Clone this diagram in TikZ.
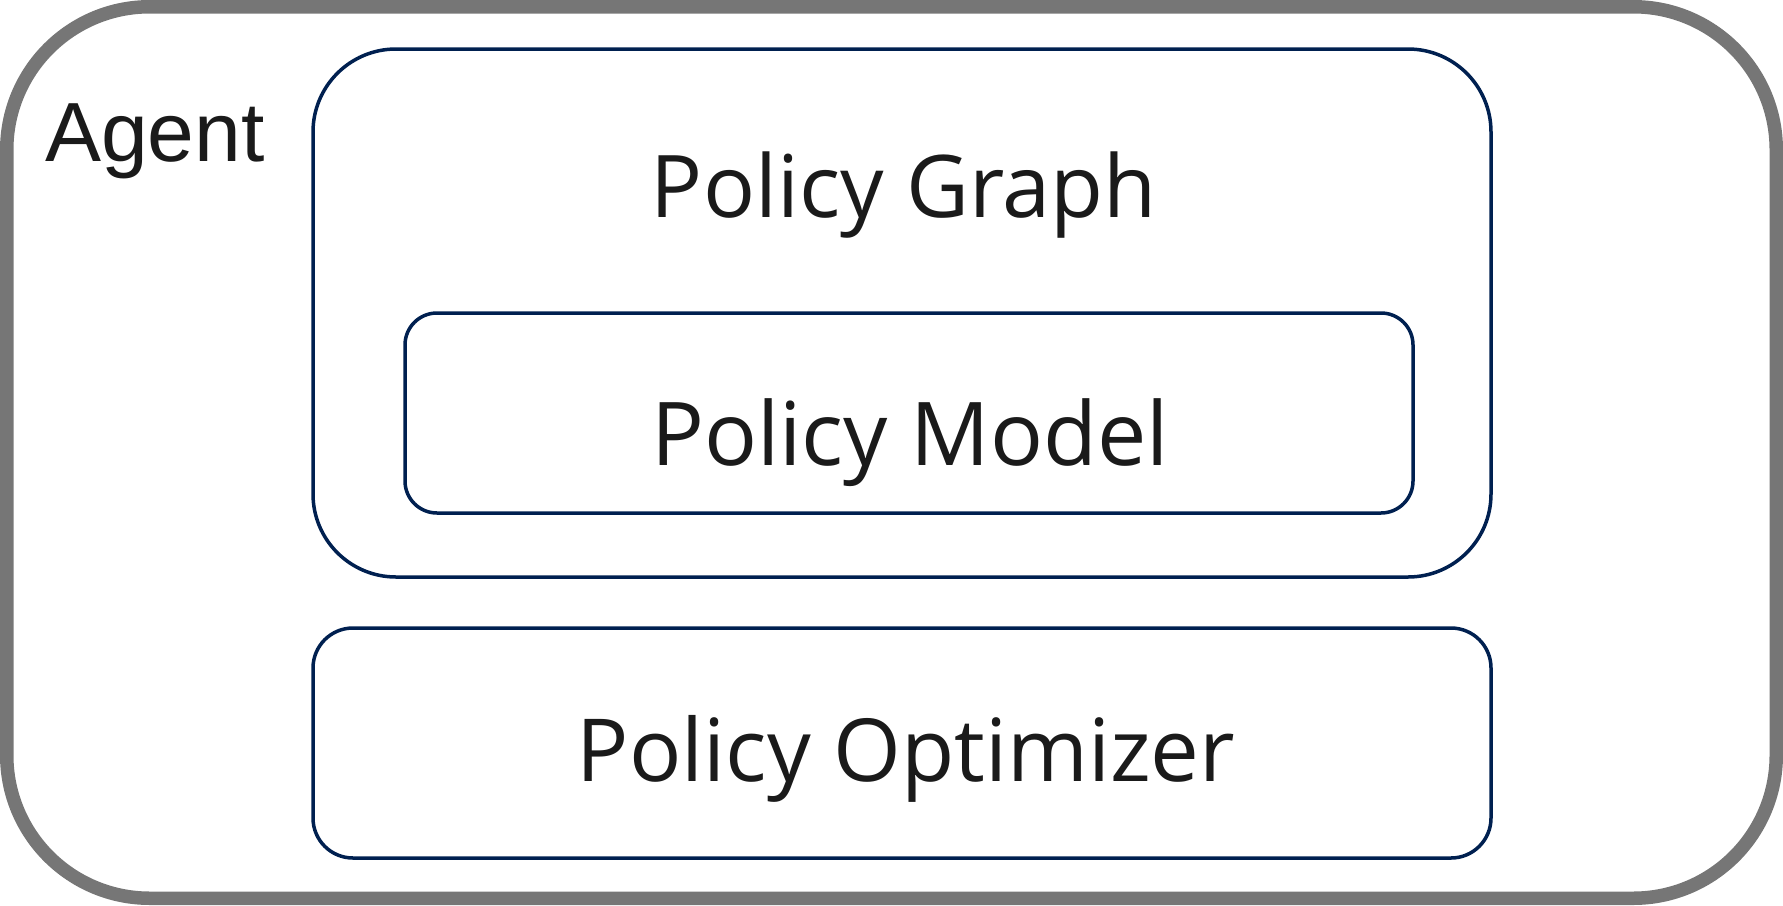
\documentclass[tikz,border=0pt]{standalone}
\usepackage{fontspec}
\newfontfamily\osans{Open Sans}
\newfontfamily\lsans{Liberation Sans}
\definecolor{navy}{RGB}{0,32,80}
\definecolor{bordergray}{RGB}{118,118,118}
\definecolor{txt}{RGB}{26,26,26}
\begin{document}
\begin{tikzpicture}[x=1pt,y=-1pt,
  outerbox/.style={draw=bordergray, line width=13.5pt, rectangle, inner sep=0pt, outer sep=0pt},
  innerbox/.style={draw=navy, line width=3.5pt, rectangle, inner sep=0pt, outer sep=0pt},
  label/.style={text=txt, anchor=base, inner sep=0pt}
]
\useasboundingbox (0,0) rectangle (1783,905);
\node[outerbox, minimum width=1769.5pt, minimum height=891.5pt, rounded corners=143pt] (agentbox) at (891.5,452.5) {};
\node[innerbox, minimum width=1178pt, minimum height=528pt, rounded corners=83pt] (graphbox) at (902,313) {};
\node[innerbox, minimum width=1008pt, minimum height=200pt, rounded corners=32pt] (modelbox) at (909,413) {};
\node[innerbox, minimum width=1178pt, minimum height=230pt, rounded corners=40pt] (optbox) at (902,743) {};
\node[label, anchor=base west] (agent) at (45,161) {\lsans\fontsize{84}{100}\selectfont Agent};
\node[label] (graph) at (904,217) {\osans\fontsize{86.5}{100}\selectfont Policy Graph};
\node[label] (model) at (910,465) {\osans\fontsize{88}{100}\selectfont Policy Model};
\node[label] (opt) at (906,781) {\osans\fontsize{87}{100}\selectfont Policy Optimizer};
\end{tikzpicture}
\end{document}
